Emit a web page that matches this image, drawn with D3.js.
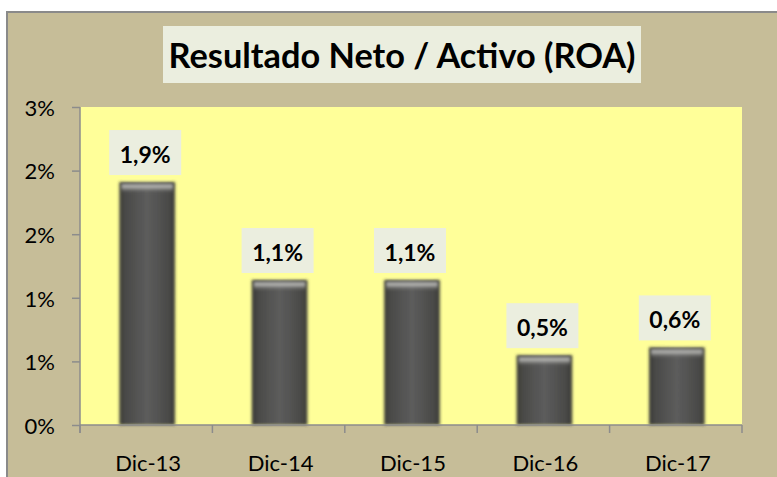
<!DOCTYPE html>
<html>
<head>
<meta charset="utf-8">
<script src="https://cdn.jsdelivr.net/npm/d3@7"></script>
<style>
  body { margin: 0; background: #fff; }
  svg { display: block; font-family: Lato, "Open Sans", sans-serif; }
</style>
</head>
<body>
<div id="chart"></div>
<script>
// ROA por cierre de diciembre
var periods = ["Dic-13", "Dic-14", "Dic-15", "Dic-16", "Dic-17"];
var roaValues = [1.91, 1.14, 1.14, 0.549, 0.61];
var tickValues = [0, 0.5, 1, 1.5, 2, 2.5];
var chartTitle = "Resultado Neto / Activo (ROA)";

var W = 777, H = 477;
var plot = {left: 80, right: 742, top: 107, bottom: 425};

var svg = d3.select("#chart").append("svg")
    .attr("width", W)
    .attr("height", H);

var defs = svg.append("defs");

// bar body: dark sides, lighter middle
var gBody = defs.append("linearGradient").attr("id", "barBody")
    .attr("x1", 0).attr("x2", 1).attr("y1", 0).attr("y2", 0);
[["0%", "#3a3a36"], ["12%", "#4a4a48"], ["50%", "#5c5c5c"], ["88%", "#4a4a48"], ["100%", "#3a3a36"]]
  .forEach(function(s) { gBody.append("stop").attr("offset", s[0]).attr("stop-color", s[1]); });

var gTop = defs.append("linearGradient").attr("id", "barTop")
    .attr("x1", 0).attr("x2", 0).attr("y1", 0).attr("y2", 1);
[["0%", "#5a5a5a", 1], ["35%", "#cfcfcb", 0.85], ["100%", "#5c5c5c", 0]]
  .forEach(function(s) { gTop.append("stop").attr("offset", s[0]).attr("stop-color", s[1]).attr("stop-opacity", s[2]); });

var blur = defs.append("filter").attr("id", "soft")
    .attr("x", "-20%").attr("y", "-10%").attr("width", "140%").attr("height", "120%");
blur.append("feGaussianBlur").attr("stdDeviation", 1.6);

// chart area background + frame
svg.append("rect")
    .attr("x", 7).attr("y", 12).attr("width", W).attr("height", H)
    .attr("fill", "#c6bd98")
    .attr("stroke", "#8a8a8a").attr("stroke-width", 2);

// title (tall glyphs squeezed to the reference width)
svg.append("rect")
    .attr("x", 163).attr("y", 26).attr("width", 478).attr("height", 57)
    .attr("fill", "#ebeedf");
var title = svg.append("text")
    .attr("text-anchor", "middle")
    .attr("font-weight", "bold")
    .attr("font-size", 34)
    .attr("fill", "#000")
    .text(chartTitle);
var tw = title.node().getComputedTextLength();
title.attr("transform", "translate(402,68) scale(" + (467 / tw) + ",1)");

// plot area
svg.append("rect")
    .attr("x", plot.left).attr("y", plot.top)
    .attr("width", plot.right - plot.left).attr("height", plot.bottom - plot.top)
    .attr("fill", "#ffff99");

var x = d3.scaleBand()
    .domain(periods)
    .range([plot.left, plot.right])
    .padding(0);

var y = d3.scaleLinear()
    .domain([0, 2.5])
    .range([plot.bottom, plot.top]);

var barW = x.bandwidth() * 0.42;

// bars
var bars = svg.append("g").selectAll("g.bar")
    .data(periods)
  .enter().append("g")
    .attr("class", "bar");

bars.append("rect")
    .attr("x", function(d) { return x(d) + x.bandwidth() / 2 - barW / 2 + 1; })
    .attr("y", function(d, i) { return y(roaValues[i]); })
    .attr("width", barW)
    .attr("height", function(d, i) { return plot.bottom - y(roaValues[i]); })
    .attr("fill", "url(#barBody)")
    .attr("filter", "url(#soft)");

bars.append("rect")
    .attr("x", function(d) { return x(d) + x.bandwidth() / 2 - barW / 2 + 3; })
    .attr("y", function(d, i) { return y(roaValues[i]) + 1; })
    .attr("width", barW - 4)
    .attr("height", 10)
    .attr("fill", "url(#barTop)")
    .attr("filter", "url(#soft)");

// y axis (Excel rounds the half-percent ticks up)
var yAxis = d3.axisLeft(y)
    .tickValues(tickValues)
    .tickSize(8)
    .tickPadding(17)
    .tickFormat(function(d) { return Math.floor(d + 0.5) + "%"; });

var yG = svg.append("g")
    .attr("transform", "translate(" + plot.left + ",0)")
    .call(yAxis);
yG.select(".domain").remove();
yG.selectAll(".tick line").attr("stroke", "#8c8c8c").attr("stroke-width", 1.5);
yG.selectAll(".tick text")
    .attr("font-size", 22)
    .attr("font-family", "Lato, sans-serif")
    .attr("fill", "#000")
    .attr("dy", "0.38em");

svg.append("line")
    .attr("x1", plot.left).attr("x2", plot.left)
    .attr("y1", plot.top).attr("y2", plot.bottom + 8)
    .attr("stroke", "#8c8c8c").attr("stroke-width", 1.5);

// x axis
var xG = svg.append("g")
    .attr("transform", "translate(0," + plot.bottom + ")");
xG.append("line")
    .attr("x1", plot.left).attr("x2", plot.right)
    .attr("stroke", "#8c8c8c").attr("stroke-width", 1.5);
xG.selectAll("line.sep")
    .data(periods.concat(["end"]))
  .enter().append("line")
    .attr("class", "sep")
    .attr("x1", function(d, i) { return i < periods.length ? x(d) : plot.right; })
    .attr("x2", function(d, i) { return i < periods.length ? x(d) : plot.right; })
    .attr("y1", 0).attr("y2", 8)
    .attr("stroke", "#8c8c8c").attr("stroke-width", 1.5);
xG.selectAll("text")
    .data(periods)
  .enter().append("text")
    .attr("x", function(d) { return x(d) + x.bandwidth() / 2 + 2; })
    .attr("y", 46)
    .attr("text-anchor", "middle")
    .attr("font-size", 22)
    .attr("fill", "#000")
    .text(function(d) { return d; });

// data labels
var fmt = function(v) { return d3.format(".1f")(v).replace(".", ",") + "%"; };
var labels = svg.append("g").selectAll("g.lbl")
    .data(periods)
  .enter().append("g")
    .attr("class", "lbl")
    .attr("transform", function(d, i) {
      return "translate(" + (x(d) + x.bandwidth() / 2 - 1) + "," + (y(roaValues[i]) - 7) + ")";
    });

labels.append("rect")
    .attr("x", -36).attr("y", -45)
    .attr("width", 72).attr("height", 45)
    .attr("fill", "#ebeedf");

labels.append("text")
    .attr("y", -12)
    .attr("text-anchor", "middle")
    .attr("font-weight", "bold")
    .attr("font-size", 23)
    .attr("fill", "#000")
    .text(function(d, i) { return fmt(roaValues[i]); });
</script>
</body>
</html>
